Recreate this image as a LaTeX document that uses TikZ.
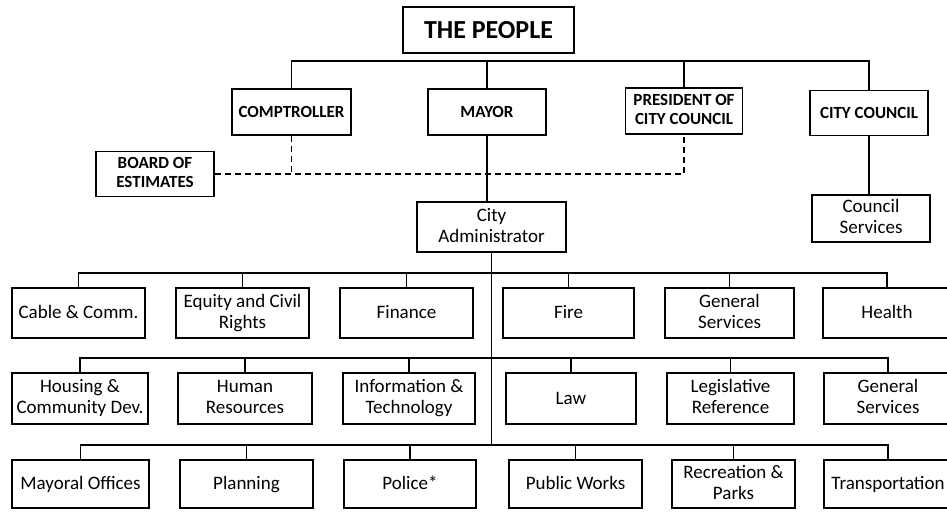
\documentclass[tikz,border=0pt]{standalone}
\usepackage{fontspec}
\setmainfont{Carlito}
\newcommand\boxstrut{\rule[-4pt]{0pt}{19pt}}
\newcommand\headstrut{\rule[-3pt]{0pt}{17pt}}
\begin{document}
\begin{tikzpicture}[x=1pt,y=-1pt,line width=1.7pt,
  box/.style={draw,align=center,inner sep=0pt,font=\fontsize{19}{21}\selectfont,
    execute at begin node=\boxstrut,execute at end node=\boxstrut},
  head/.style={box,font=\fontsize{17}{19}\selectfont\bfseries,
    execute at begin node=\headstrut,execute at end node=\headstrut},
  dashline/.style={line width=1.4pt,dash pattern=on 6pt off 4pt}]
\useasboundingbox (0,0) rectangle (947,512);
\node[draw,inner sep=0pt,minimum width=171pt,minimum height=46pt,font=\fontsize{26}{28}\selectfont\bfseries] (people) at (488.5,30) {THE PEOPLE};
\node[head,minimum width=119pt,minimum height=46pt] (comp) at (291.5,112) {COMPTROLLER};
\node[head,minimum width=118pt,minimum height=46pt] (mayor) at (487,112) {MAYOR};
\node[head,minimum width=117pt,minimum height=46pt] (pres) at (684,111) {PRESIDENT OF\\CITY COUNCIL};
\node[head,minimum width=118pt,minimum height=45pt] (council) at (869,113) {CITY COUNCIL};
\node[head,minimum width=118pt,minimum height=45pt] (board) at (155,174) {BOARD OF\\ESTIMATES};
\node[box,minimum width=149pt,minimum height=50pt] (admin) at (491.5,227) {City\\Administrator};
\node[box,minimum width=118pt,minimum height=47pt] (cserv) at (871,218.5) {Council\\Services};
% departments, three rows
\foreach \n/\cx/\w/\t in {cable/78.5/133/{Cable \& Comm.},equity/242.5/133/{Equity and Civil\\Rights},
  finance/406.5/133/Finance,fire/568.5/131/Fire,gsvcA/729.5/129/{General\\Services},health/887/128/Health}
  \node[box,minimum width=\w pt,minimum height=50pt] (\n) at (\cx,313) {\t};
\foreach \n/\cx/\w/\t in {housing/80/136/{Housing \&\\Community Dev.},hr/245/134/{Human\\Resources},
  infotech/409/132/{Information \&\\Technology},law/571/130/Law,legref/730.5/127/{Legislative\\Reference},gsvcB/888/128/{General\\Services}}
  \node[box,minimum width=\w pt,minimum height=51pt] (\n) at (\cx,398.5) {\t};
\foreach \n/\cx/\w/\t in {mayoral/80.5/137/{Mayoral Offices},planning/246.5/133/Planning,police/410/132/Police*,
  pworks/575.5/133/{Public Works},recpark/733.5/123/{Recreation \&\\Parks},transport/888/128/Transportation}
  \node[box,minimum width=\w pt,minimum height=48pt] (\n) at (\cx,484) {\t};
\coordinate (topbus) at (488,61);
\coordinate (busA) at (488,273);
\coordinate (busB) at (488,358);
\coordinate (busC) at (488,445);
\draw (comp.north) -- (comp.north|-topbus) -- (council.north|-topbus) -- (council.north);
\draw (mayor.north) -- (mayor.north|-topbus) (pres.north) -- (pres.north|-topbus);
\draw (mayor.south) -- (mayor.south|-admin.north) (council.south) -- (council.south|-cserv.north);
\draw[dashline] (board.east) -- (pres.south|-board.east) -- (pres.south);
\draw[dashline] (comp.south) -- (comp.south|-board.east);
\draw (admin.south) -- (admin.south|-busC);
\draw (cable.north) -- (cable.north|-busA) -- (health.north|-busA) -- (health.north);
\draw (housing.north) -- (housing.north|-busB) -- (gsvcB.north|-busB) -- (gsvcB.north);
\draw (mayoral.north) -- (mayoral.north|-busC) -- (transport.north|-busC) -- (transport.north);
\foreach \n in {equity,finance,fire,gsvcA,hr,infotech,law,legref,planning,police,pworks,recpark}
  \draw (\n.north) -- ++(0,-15);
\end{tikzpicture}
\end{document}
